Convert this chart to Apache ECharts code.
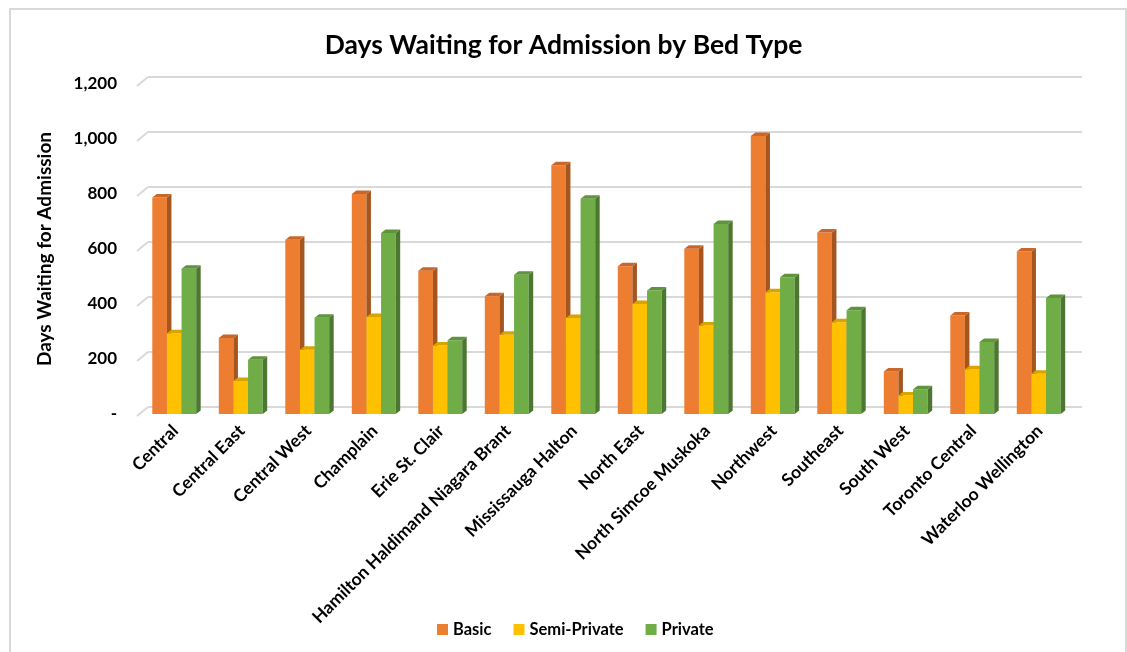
<!DOCTYPE html>
<html>
<head>
<meta charset="utf-8">
<script src="https://cdn.jsdelivr.net/npm/echarts@6/dist/echarts.min.js"></script>
<style>html,body{margin:0;padding:0;background:#fff;}#c{width:1127px;height:652px;}</style>
</head>
<body>
<div id="c"></div>
<script>
const categories = ["Central","Central East","Central West","Champlain","Erie St. Clair","Hamilton Haldimand Niagara Brant","Mississauga Halton","North East","North Simcoe Muskoka","Northwest","Southeast","South West","Toronto Central","Waterloo Wellington"];
const basic = [787, 276, 634, 800, 521, 428, 905, 537, 601, 1011, 660, 155, 358, 591];
const semiPrivate = [294, 120, 234, 353, 249, 288, 349, 400, 322, 443, 334, 67, 163, 146];
const privateBeds = [528, 197, 350, 658, 268, 506, 783, 449, 691, 497, 377, 90, 262, 422];
const yTicks = [0, 200, 400, 600, 800, 1000, 1200];
const seriesNames = ["Basic", "Semi-Private", "Private"];

const FONT = 'Lato, "Noto Sans", sans-serif';
const faces = [
  {front: '#ED7D31', top: '#C9672A', side: '#A5561F'},
  {front: '#FFC000', top: '#D9A300', side: '#B38600'},
  {front: '#70AD47', top: '#5F933C', side: '#4C7731'}
];
const DX = 4.5, DY = 3.5;

function barRender(si) {
  return function (params, api) {
    const ci = api.value(0), v = api.value(1);
    const top = api.coord([ci, v]);
    const base = api.coord([ci, 0]);
    const band = api.size([1, 0])[0];
    const bw = band * 0.22;
    const x = top[0] + (si - 1.5) * bw - 1;
    const y = top[1], y0 = base[1];
    const f = faces[si];
    return {
      type: 'group',
      children: [
        {type: 'rect', shape: {x: x, y: y, width: bw, height: y0 - y}, style: {fill: f.front}},
        {type: 'polygon', shape: {points: [[x + bw, y], [x + bw + DX, y - DY], [x + bw + DX, y0 - DY], [x + bw, y0]]}, style: {fill: f.side}},
        {type: 'polygon', shape: {points: [[x, y], [x + bw, y], [x + bw + DX, y - DY], [x + DX, y - DY]]}, style: {fill: f.top}}
      ]
    };
  };
}

const dataSets = [basic, semiPrivate, privateBeds];
const barSeries = dataSets.map((arr, si) => ({
  name: seriesNames[si],
  type: 'custom',
  xAxisIndex: 1, yAxisIndex: 1,
  itemStyle: {color: faces[si].front},
  encode: {x: 0, y: 1},
  data: arr.map((v, i) => [i, v]),
  renderItem: barRender(si),
  z: 5
}));

const chart = echarts.init(document.getElementById('c'));
chart.setOption({
  animation: false,
  backgroundColor: '#fff',
  title: {
    text: 'Days Waiting for Admission by Bed Type',
    left: 'center', top: 27,
    textStyle: {fontFamily: FONT, fontWeight: 'bold', fontSize: 26.5, color: '#000'}
  },
  graphic: [{
    type: 'rect', shape: {x: 10, y: 9, width: 1116, height: 660},
    style: {fill: 'none', stroke: '#D9D9D9', lineWidth: 2}, z: 0
  }],
  legend: {
    data: seriesNames,
    left: 432, top: 616,
    icon: 'rect', itemWidth: 11, itemHeight: 11, itemGap: 22,
    textStyle: {fontFamily: FONT, fontWeight: 'bold', fontSize: 16.5, color: '#000'}
  },
  grid: [
    {left: 148, right: 45, top: 77, bottom: 245},
    {left: 142, right: 54, top: 84, bottom: 238}
  ],
  xAxis: [
    {gridIndex: 0, type: 'value', min: 0, max: 1, show: false},
    {gridIndex: 1, type: 'category', data: categories,
     axisLine: {show: false}, axisTick: {show: false},
     axisLabel: {interval: 0, rotate: 45, margin: 14, fontFamily: FONT, fontWeight: 'bold', fontSize: 17.5, color: '#000'}}
  ],
  yAxis: [
    {gridIndex: 0, type: 'value', min: 0, max: 1200, interval: 200,
     axisLabel: {show: false}, axisLine: {show: false}, axisTick: {show: false},
     splitLine: {lineStyle: {color: '#D9D9D9', width: 2}}},
    {gridIndex: 1, type: 'value', min: 0, max: 1200, interval: 200,
     name: 'Days Waiting for Admission', nameLocation: 'middle', nameGap: 88,
     nameTextStyle: {fontFamily: FONT, fontWeight: 'bold', fontSize: 19, color: '#000'},
     axisLine: {show: false}, axisTick: {show: false}, splitLine: {show: false},
     axisLabel: {margin: 25, padding: [10, 0, 0, 0], fontFamily: FONT, fontWeight: 'bold', fontSize: 17, color: '#000',
       formatter: v => v === 0 ? '-' : v.toLocaleString('en-US')}}
  ],
  series: [
    {
      type: 'custom', xAxisIndex: 0, yAxisIndex: 0, silent: true,
      data: yTicks.map(v => [0, v]), encode: {x: 0, y: 1},
      renderItem: function (params, api) {
        const p = api.coord([0, api.value(1)]);
        return {type: 'line', shape: {x1: p[0] - 11, y1: p[1] + 9, x2: p[0], y2: p[1]},
          style: {stroke: '#D9D9D9', lineWidth: 2}};
      },
      z: 1
    }
  ].concat(barSeries)
});
</script>
</body>
</html>
